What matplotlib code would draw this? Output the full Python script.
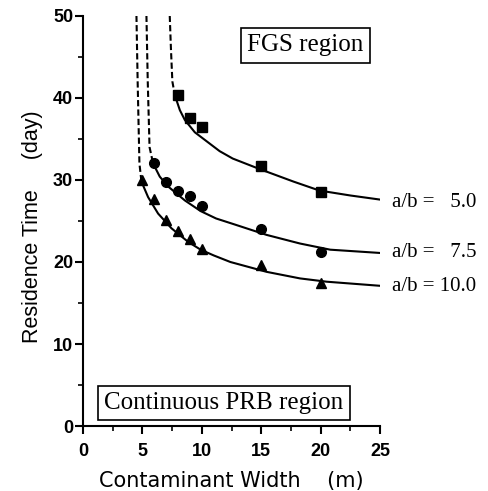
import numpy as np
import matplotlib
matplotlib.use('Agg')
import matplotlib.pyplot as plt
from matplotlib.ticker import MultipleLocator

# measured points
x_sq = [8, 9, 10, 15, 20]
y_sq = [40.4, 37.6, 36.4, 31.7, 28.5]
x_ci = [6, 7, 8, 9, 10, 15, 20]
y_ci = [32.1, 29.7, 28.7, 28.0, 26.8, 24.0, 21.2]
x_tr = [5, 6, 7, 8, 9, 10, 15, 20]
y_tr = [30.0, 27.7, 25.1, 23.8, 22.8, 21.6, 19.6, 17.5]

# model curves (solid part)
cx_sq = [7.73, 8.15, 8.57, 9.41, 10.5, 11.5, 12.6, 14.9, 17.7, 19.9, 22.5, 25.0]
cy_sq = [40.3, 38.5, 37.3, 35.8, 34.6, 33.5, 32.6, 31.3, 29.8, 28.7, 28.1, 27.6]
cx_ci = [5.9, 6.46, 7.16, 8.57, 9.9, 11.2, 12.7, 15.45, 18.26, 20.8, 25.0]
cy_ci = [32.0, 30.4, 29.2, 27.5, 26.2, 25.3, 24.6, 23.3, 22.25, 21.5, 21.1]
cx_tr = [4.92, 5.48, 6.32, 7.45, 8.85, 9.9, 11.0, 12.4, 15.45, 18.26, 20.5, 25.0]
cy_tr = [29.8, 27.9, 25.9, 24.1, 22.45, 21.5, 20.8, 20.0, 18.8, 18.0, 17.6, 17.1]

# dashed asymptote parts
dx_sq = [7.30, 7.40, 7.52, 7.73]
dy_sq = [50.0, 46.0, 42.0, 40.3]
dx_ci = [5.34, 5.45, 5.60, 5.9]
dy_ci = [50.0, 42.0, 34.0, 32.0]
dx_tr = [4.50, 4.60, 4.75, 4.92]
dy_tr = [50.0, 42.0, 32.0, 29.8]

labels = ['a/b =   5.0', 'a/b =   7.5', 'a/b = 10.0']
label_y = [27.3, 21.1, 17.0]

fig = plt.figure(figsize=(4.88, 4.91), dpi=100)
ax = fig.add_axes([0.170, 0.132, 0.609, 0.836])

for cx, cy in [(cx_sq, cy_sq), (cx_ci, cy_ci), (cx_tr, cy_tr)]:
    ax.plot(cx, cy, color='k', lw=1.5)
for dx, dy in [(dx_sq, dy_sq), (dx_ci, dy_ci), (dx_tr, dy_tr)]:
    ax.plot(dx, dy, color='k', lw=1.5, ls=(0, (3, 1.5)))

ax.plot(x_sq, y_sq, 's', color='k', ms=6.5, ls='none')
ax.plot(x_ci, y_ci, 'o', color='k', ms=7, ls='none')
ax.plot(x_tr, y_tr, '^', color='k', ms=7, ls='none')

for lab, ly in zip(labels, label_y):
    ax.text(26.0, ly, lab, family='Liberation Serif', fontsize=15,
            va='center', ha='left', clip_on=False)

box = dict(boxstyle='square,pad=0.25', fc='white', ec='k', lw=1.2)
ax.text(18.7, 46.4, 'FGS region', family='Liberation Serif', fontsize=18,
        ha='center', va='center', bbox=box)
ax.text(11.85, 2.8, 'Continuous PRB region', family='Liberation Serif', fontsize=18,
        ha='center', va='center', bbox=box)

ax.set_xlim(0, 25)
ax.set_ylim(0, 50)
ax.spines['top'].set_visible(False)
ax.spines['right'].set_visible(False)
for s in ['left', 'bottom']:
    ax.spines[s].set_linewidth(1.5)
ax.xaxis.set_major_locator(MultipleLocator(5))
ax.xaxis.set_minor_locator(MultipleLocator(2.5))
ax.yaxis.set_major_locator(MultipleLocator(10))
ax.yaxis.set_minor_locator(MultipleLocator(5))
ax.tick_params(which='major', direction='out', length=6, width=1.5)
ax.tick_params(which='minor', direction='out', length=3.5, width=1.2)
ax.tick_params(axis='x', which='major', pad=6)
ax.tick_params(axis='y', which='major', pad=1)
for t in ax.get_xticklabels() + ax.get_yticklabels():
    t.set_family('Liberation Sans')
    t.set_fontweight('bold')
    t.set_fontsize(13)

ax.set_xlabel('Contaminant Width    (m)', family='DejaVu Sans', fontsize=15,
              labelpad=8)
ax.set_ylabel('Residence Time     (day)', family='Liberation Sans', fontsize=15.5,
              labelpad=12)
ax.yaxis.set_label_coords(-0.135, 0.485)

fig.savefig('out.png', dpi=100)
